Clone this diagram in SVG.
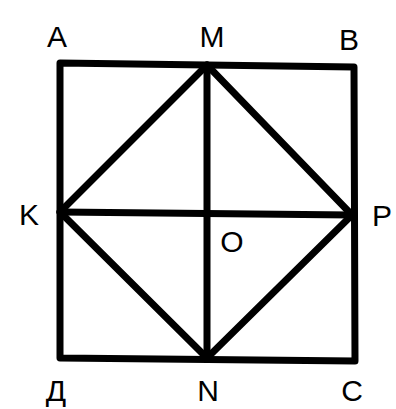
<svg xmlns="http://www.w3.org/2000/svg" width="396" height="409" viewBox="0 0 396 409">
<style>
.l{stroke:#000;stroke-width:7;stroke-linecap:round;stroke-linejoin:round;fill:none}
text{font-family:"Liberation Sans",Arial,sans-serif;font-size:30px;fill:#000;text-anchor:middle}
</style>
<rect width="396" height="409" fill="#fff"/>
<g id="connectors">
<polygon class="l" points="60,63 354,67 355,361 60,358"/>
<polygon class="l" points="207,65 352,215 207,358 60,212"/>
<line class="l" x1="207" y1="65" x2="207" y2="358"/>
<line class="l" x1="60" y1="212" x2="352" y2="215"/>
</g>
<g id="A"><text x="57" y="47">A</text></g>
<g id="M"><text x="212" y="47">M</text></g>
<g id="B"><text x="349" y="50">B</text></g>
<g id="K"><text x="29" y="225">K</text></g>
<g id="P"><text x="382" y="226">P</text></g>
<g id="O"><text x="232" y="252">O</text></g>
<g id="D"><text x="56" y="401">Д</text></g>
<g id="N"><text x="208" y="401">N</text></g>
<g id="C"><text x="352" y="401">C</text></g>
</svg>
